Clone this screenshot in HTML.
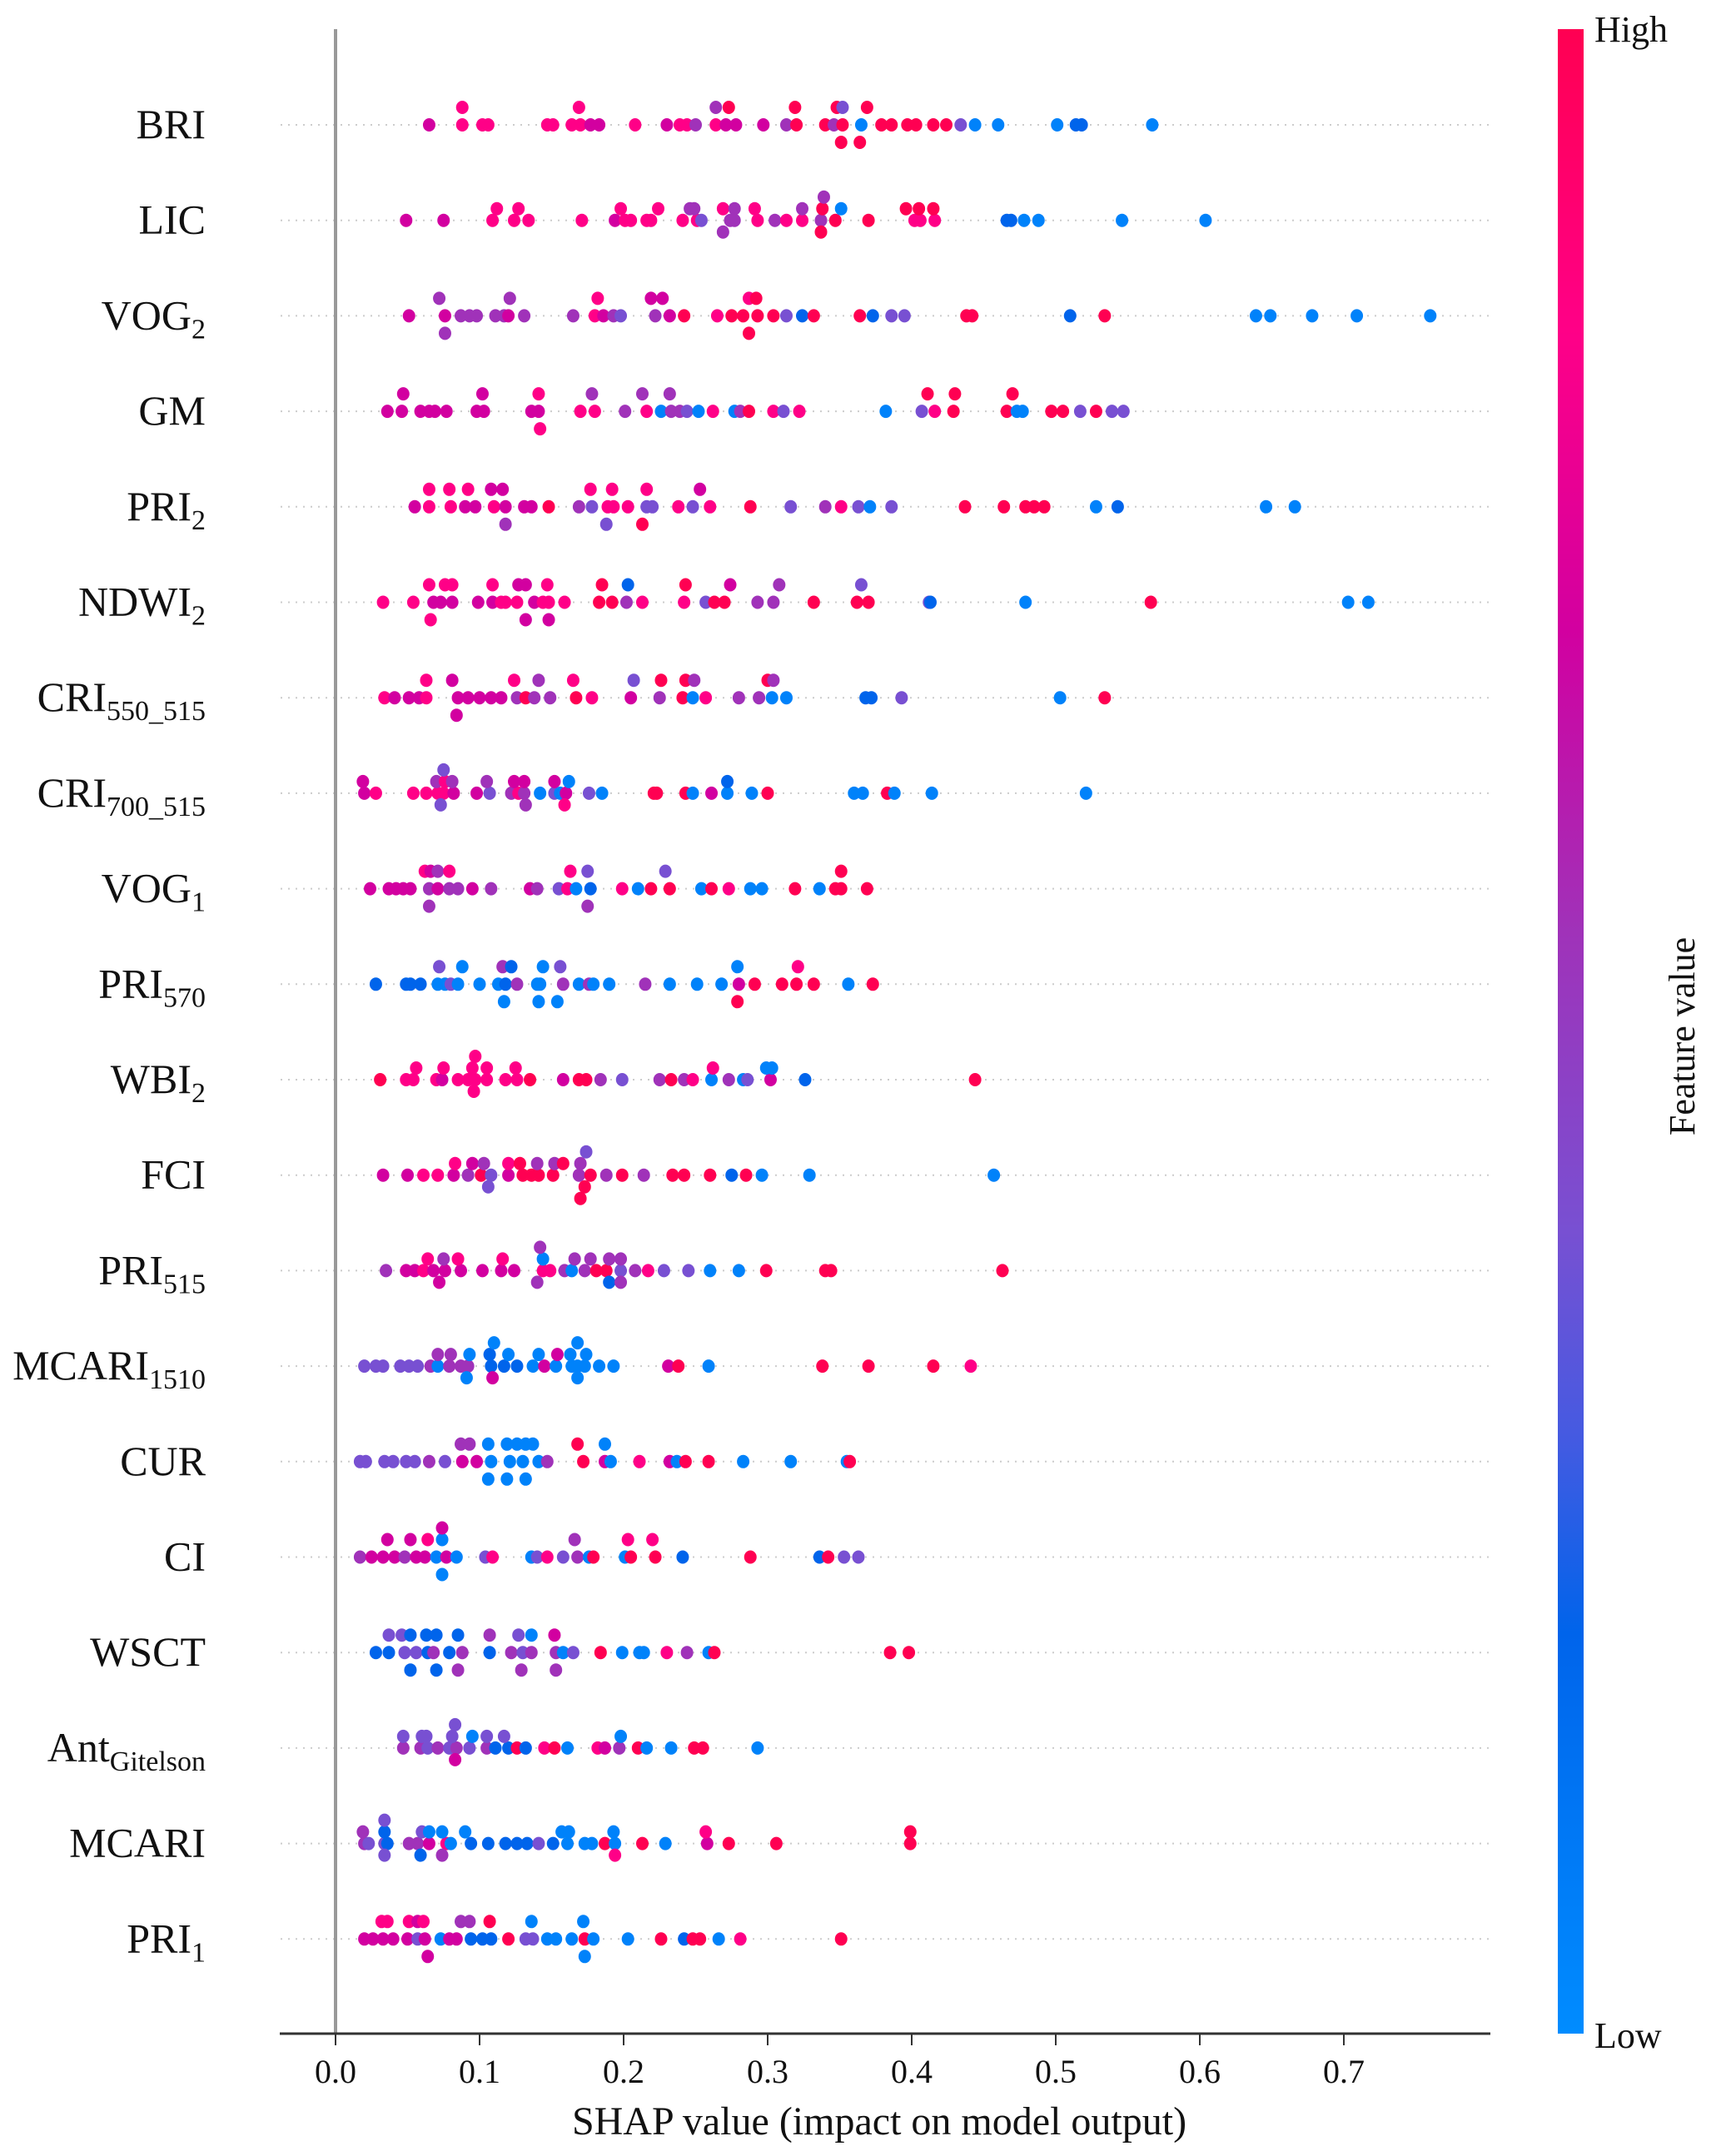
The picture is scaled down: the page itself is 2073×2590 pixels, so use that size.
<!DOCTYPE html>
<html><head><meta charset="utf-8"><style>
html,body{margin:0;padding:0;background:#fff;}
svg{display:block;font-family:"Liberation Serif",serif;}
</style></head><body>
<svg id="chart" width="2073" height="2590" viewBox="0 0 2073 2590" xmlns="http://www.w3.org/2000/svg">
<defs>
<linearGradient id="cbar" x1="0" y1="1" x2="0" y2="0">
<stop offset="0" stop-color="rgb(0,140,255)"/>
<stop offset="0.2" stop-color="rgb(0,100,235)"/>
<stop offset="0.3" stop-color="rgb(70,90,225)"/>
<stop offset="0.4" stop-color="rgb(120,80,210)"/>
<stop offset="0.55" stop-color="rgb(160,50,185)"/>
<stop offset="0.7" stop-color="rgb(210,0,160)"/>
<stop offset="0.85" stop-color="rgb(255,0,135)"/>
<stop offset="1" stop-color="rgb(255,0,82)"/>
</linearGradient>
</defs>
<g id="grid"></g>
<line x1="403" y1="35" x2="403" y2="2443" stroke="#999" stroke-width="4"/>
<g id="dots"></g>
<g id="labels"></g>
<line x1="336" y1="2443" x2="1790" y2="2443" stroke="#333" stroke-width="3"/>
<g id="xticks"></g>
<text x="1056" y="2564" font-size="48" text-anchor="middle" fill="#111">SHAP value (impact on model output)</text>
<rect x="1871" y="35" width="31" height="2408" fill="url(#cbar)"/>
<text x="1915" y="50" font-size="44" fill="#111">High</text>
<text x="1915" y="2460" font-size="44" fill="#111">Low</text>
<text x="2035" y="1245" font-size="44" text-anchor="middle" fill="#111" transform="rotate(-90 2035 1245)">Feature value</text>
</svg>
<script>
const features = [["BRI",""],["LIC",""],["VOG","2"],["GM",""],["PRI","2"],["NDWI","2"],["CRI","550_515"],["CRI","700_515"],["VOG","1"],["PRI","570"],["WBI","2"],["FCI",""],["PRI","515"],["MCARI","1510"],["CUR",""],["CI",""],["WSCT",""],["Ant","Gitelson"],["MCARI",""],["PRI","1"]];
const xTicks = [0,0.1,0.2,0.3,0.4,0.5,0.6,0.7];
const xTickLabels = ["0.0","0.1","0.2","0.3","0.4","0.5","0.6","0.7"];
// feature value codes
const R=1,P=0.85,M=0.7,U=0.55,V=0.4,B=0.2,L=0.05;
// each row: [shap value, feature value, stack layer]
const rowBRI = [[.065,M,0],[.088,P,0],[.102,P,0],[.106,P,0],[.147,P,0],[.151,P,0],[.164,P,0],[.170,P,0],[.177,M,0],[.183,M,0],[.208,P,0],[.230,M,0],[.239,P,0],[.244,P,0],[.250,U,0],[.264,P,0],[.271,M,0],[.278,M,0],[.297,M,0],[.313,U,0],[.320,R,0],[.340,R,0],[.346,U,0],[.352,R,0],[.365,L,0],[.379,R,0],[.386,R,0],[.397,R,0],[.403,R,0],[.415,R,0],[.424,R,0],[.434,V,0],[.444,L,0],[.460,L,0],[.501,L,0],[.514,B,0],[.518,B,0],[.567,L,0],
[.088,P,-3],[.169,P,-3],[.264,U,-3],[.273,R,-3],[.319,R,-3],[.348,R,-3],[.352,V,-3],[.369,R,-3],[.351,R,3],[.364,R,3]];
const rowLIC = [[.049,M,0],[.075,M,0],[.109,P,0],[.124,P,0],[.134,P,0],[.171,P,0],[.194,M,0],[.201,P,0],[.205,P,0],[.216,P,0],[.219,P,0],[.241,P,0],[.251,P,0],[.254,V,0],[.274,U,0],[.277,U,0],[.293,P,0],[.305,U,0],[.313,P,0],[.324,P,0],[.337,U,0],[.347,R,0],[.370,R,0],[.402,P,0],[.406,P,0],[.416,P,0],[.466,B,0],[.469,B,0],[.478,L,0],[.488,L,0],[.546,L,0],[.604,L,0],
[.112,P,-2],[.127,P,-2],[.198,P,-2],[.224,P,-2],[.246,U,-2],[.249,U,-2],[.269,P,-2],[.277,U,-2],[.291,P,-2],[.324,U,-2],[.338,R,-2],[.351,L,-2],[.396,R,-2],[.405,R,-2],[.415,R,-2],[.339,U,-4],[.269,U,2],[.337,R,2]];
const rowVOG2 = [[.051,M,0],[.076,M,0],[.087,U,0],[.093,U,0],[.098,U,0],[.111,U,0],[.117,U,0],[.120,M,0],[.131,U,0],[.165,U,0],[.180,P,0],[.186,M,0],[.193,U,0],[.198,V,0],[.222,U,0],[.232,M,0],[.242,R,0],[.265,P,0],[.275,R,0],[.283,R,0],[.293,R,0],[.304,R,0],[.313,V,0],[.324,B,0],[.332,R,0],[.364,R,0],[.373,B,0],[.386,V,0],[.395,V,0],[.438,R,0],[.442,R,0],[.510,B,0],[.534,R,0],[.639,L,0],[.649,L,0],[.678,L,0],[.709,L,0],[.760,L,0],
[.072,U,-3],[.121,U,-3],[.182,P,-3],[.219,M,-3],[.227,M,-3],[.287,P,-3],[.292,R,-3],[.076,U,3],[.287,R,3]];
const rowGM = [[.036,M,0],[.046,M,0],[.059,M,0],[.065,M,0],[.069,M,0],[.077,M,0],[.098,M,0],[.103,M,0],[.136,M,0],[.141,M,0],[.170,P,0],[.180,P,0],[.201,U,0],[.216,P,0],[.226,L,0],[.233,U,0],[.239,U,0],[.244,V,0],[.252,L,0],[.262,P,0],[.277,L,0],[.281,U,0],[.287,R,0],[.304,P,0],[.311,V,0],[.322,P,0],[.382,L,0],[.407,V,0],[.416,P,0],[.429,R,0],[.466,R,0],[.473,L,0],[.477,L,0],[.497,R,0],[.505,R,0],[.517,V,0],[.528,R,0],[.539,V,0],[.547,V,0],
[.047,M,-3],[.102,M,-3],[.141,P,-3],[.178,U,-3],[.213,U,-3],[.232,U,-3],[.411,R,-3],[.430,R,-3],[.470,R,-3],[.142,P,3]];
const rowPRI2 = [[.055,M,0],[.065,P,0],[.080,P,0],[.090,M,0],[.097,M,0],[.110,P,0],[.118,M,0],[.131,M,0],[.136,M,0],[.148,R,0],[.169,U,0],[.178,V,0],[.189,P,0],[.193,P,0],[.203,P,0],[.216,V,0],[.220,V,0],[.238,P,0],[.248,V,0],[.260,P,0],[.288,R,0],[.316,V,0],[.340,U,0],[.351,P,0],[.363,V,0],[.371,L,0],[.386,V,0],[.437,R,0],[.464,R,0],[.479,R,0],[.485,R,0],[.492,R,0],[.528,L,0],[.543,B,0],[.646,L,0],[.666,L,0],
[.065,P,-3],[.079,P,-3],[.092,P,-3],[.108,M,-3],[.116,M,-3],[.177,P,-3],[.192,P,-3],[.216,P,-3],[.253,M,-3],[.118,U,3],[.188,V,3],[.213,R,3]];
const rowNDWI2 = [[.033,P,0],[.054,P,0],[.068,M,0],[.073,M,0],[.081,M,0],[.099,M,0],[.109,M,0],[.115,P,0],[.118,P,0],[.126,P,0],[.138,M,0],[.144,P,0],[.148,P,0],[.159,P,0],[.183,R,0],[.192,R,0],[.202,U,0],[.213,P,0],[.242,P,0],[.257,V,0],[.263,R,0],[.270,R,0],[.293,U,0],[.304,U,0],[.332,R,0],[.362,R,0],[.370,R,0],[.412,V,0],[.413,B,0],[.479,L,0],[.566,R,0],[.703,L,0],[.717,L,0],
[.065,P,-3],[.076,P,-3],[.081,P,-3],[.109,P,-3],[.127,M,-3],[.132,M,-3],[.147,P,-3],[.185,R,-3],[.203,B,-3],[.243,R,-3],[.274,M,-3],[.308,U,-3],[.365,V,-3],[.066,P,3],[.132,M,3],[.148,M,3]];
const rowCRI550 = [[.034,P,0],[.041,M,0],[.051,M,0],[.058,M,0],[.063,P,0],[.085,M,0],[.092,M,0],[.100,M,0],[.108,M,0],[.115,M,0],[.126,U,0],[.132,R,0],[.138,U,0],[.149,U,0],[.167,R,0],[.178,P,0],[.205,M,0],[.225,U,0],[.241,R,0],[.248,L,0],[.257,P,0],[.280,U,0],[.294,U,0],[.303,L,0],[.313,L,0],[.368,B,0],[.372,B,0],[.393,V,0],[.503,L,0],[.534,R,0],
[.063,P,-3],[.081,M,-3],[.124,P,-3],[.141,U,-3],[.165,P,-3],[.207,V,-3],[.226,R,-3],[.243,R,-3],[.249,U,-3],[.300,R,-3],[.304,U,-3],[.084,M,3]];
const rowCRI700 = [[.020,M,0],[.028,P,0],[.054,P,0],[.063,P,0],[.071,P,0],[.075,P,0],[.082,M,0],[.098,M,0],[.107,V,0],[.122,U,0],[.127,P,0],[.131,U,0],[.142,L,0],[.152,V,0],[.156,L,0],[.160,M,0],[.176,V,0],[.185,L,0],[.221,R,0],[.223,R,0],[.243,R,0],[.248,L,0],[.261,M,0],[.272,L,0],[.289,L,0],[.300,R,0],[.360,L,0],[.366,L,0],[.383,R,0],[.388,L,0],[.414,L,0],[.521,L,0],
[.019,M,-2],[.070,U,-2],[.076,P,-2],[.081,U,-2],[.105,U,-2],[.124,M,-2],[.131,M,-2],[.152,M,-2],[.162,L,-2],[.272,B,-2],[.075,V,-4],[.073,V,2],[.132,U,2],[.159,P,2]];
const rowVOG1 = [[.024,M,0],[.037,M,0],[.042,M,0],[.047,M,0],[.052,M,0],[.065,U,0],[.071,M,0],[.079,U,0],[.085,U,0],[.095,M,0],[.108,U,0],[.135,M,0],[.140,U,0],[.155,V,0],[.161,P,0],[.167,L,0],[.177,B,0],[.199,P,0],[.210,L,0],[.219,R,0],[.232,R,0],[.254,L,0],[.261,R,0],[.273,P,0],[.288,L,0],[.296,L,0],[.319,R,0],[.336,L,0],[.347,R,0],[.351,R,0],[.369,R,0],
[.062,P,-3],[.066,M,-3],[.071,U,-3],[.079,P,-3],[.163,P,-3],[.175,V,-3],[.229,V,-3],[.351,R,-3],[.065,U,3],[.175,U,3]];
const rowPRI570 = [[.028,B,0],[.049,B,0],[.052,B,0],[.059,B,0],[.071,L,0],[.076,L,0],[.080,V,0],[.085,L,0],[.100,L,0],[.113,L,0],[.118,B,0],[.126,U,0],[.140,L,0],[.142,L,0],[.158,U,0],[.169,L,0],[.176,U,0],[.179,L,0],[.190,L,0],[.215,U,0],[.232,L,0],[.251,L,0],[.268,L,0],[.280,M,0],[.291,R,0],[.310,R,0],[.320,R,0],[.332,R,0],[.356,L,0],[.373,R,0],
[.072,V,-3],[.088,L,-3],[.116,U,-3],[.122,B,-3],[.144,L,-3],[.156,V,-3],[.279,L,-3],[.321,P,-3],[.117,L,3],[.141,L,3],[.154,L,3],[.279,R,3]];
const rowWBI2 = [[.031,R,0],[.049,P,0],[.054,P,0],[.070,P,0],[.074,M,0],[.085,P,0],[.092,P,0],[.097,P,0],[.105,P,0],[.118,P,0],[.126,P,0],[.135,R,0],[.158,M,0],[.169,R,0],[.174,R,0],[.184,U,0],[.199,V,0],[.225,U,0],[.233,R,0],[.242,U,0],[.248,P,0],[.261,L,0],[.273,U,0],[.283,L,0],[.286,V,0],[.302,M,0],[.326,B,0],[.444,R,0],
[.056,P,-2],[.075,P,-2],[.095,P,-2],[.105,P,-2],[.125,P,-2],[.262,P,-2],[.299,L,-2],[.303,L,-2],[.097,P,-4],[.096,P,2]];
const rowFCI = [[.033,M,0],[.050,M,0],[.061,P,0],[.071,P,0],[.082,M,0],[.092,U,0],[.101,R,0],[.108,V,0],[.120,M,0],[.130,R,0],[.136,R,0],[.141,R,0],[.151,R,0],[.169,U,0],[.177,R,0],[.188,U,0],[.199,R,0],[.214,U,0],[.234,R,0],[.242,R,0],[.260,R,0],[.275,B,0],[.285,R,0],[.296,L,0],[.329,L,0],[.457,L,0],
[.083,P,-2],[.095,M,-2],[.103,U,-2],[.120,P,-2],[.128,R,-2],[.140,U,-2],[.152,U,-2],[.158,R,-2],[.170,U,-2],[.174,V,-4],[.106,V,2],[.173,R,2],[.170,R,4]];
const rowPRI515 = [[.035,U,0],[.049,M,0],[.055,M,0],[.061,P,0],[.068,M,0],[.076,M,0],[.087,M,0],[.102,M,0],[.115,M,0],[.124,M,0],[.144,P,0],[.149,P,0],[.159,U,0],[.164,L,0],[.173,U,0],[.181,R,0],[.188,R,0],[.198,V,0],[.208,U,0],[.217,P,0],[.228,V,0],[.245,V,0],[.260,L,0],[.280,L,0],[.299,R,0],[.340,R,0],[.344,R,0],[.463,R,0],
[.064,P,-2],[.075,U,-2],[.085,P,-2],[.116,P,-2],[.144,L,-2],[.166,U,-2],[.177,U,-2],[.190,U,-2],[.198,U,-2],[.142,U,-4],[.072,M,2],[.140,U,2],[.190,B,2],[.198,U,2]];
const rowMCARI1510 = [[.020,V,0],[.028,V,0],[.033,V,0],[.045,V,0],[.051,V,0],[.057,V,0],[.066,U,0],[.071,L,0],[.079,U,0],[.087,U,0],[.092,U,0],[.108,B,0],[.117,B,0],[.126,B,0],[.137,L,0],[.145,M,0],[.153,L,0],[.164,L,0],[.168,L,0],[.173,L,0],[.183,L,0],[.193,L,0],[.231,M,0],[.238,R,0],[.259,L,0],[.338,R,0],[.370,R,0],[.415,R,0],[.441,P,0],
[.071,U,-2],[.080,U,-2],[.093,L,-2],[.107,B,-2],[.120,L,-2],[.141,L,-2],[.154,M,-2],[.163,L,-2],[.174,L,-2],[.110,L,-4],[.168,L,-4],[.091,L,2],[.109,M,2],[.168,L,2]];
const rowCUR = [[.017,V,0],[.021,V,0],[.034,V,0],[.040,V,0],[.049,V,0],[.055,V,0],[.065,U,0],[.076,V,0],[.088,M,0],[.098,M,0],[.108,L,0],[.121,L,0],[.130,L,0],[.141,L,0],[.147,U,0],[.172,R,0],[.187,M,0],[.191,L,0],[.211,P,0],[.232,M,0],[.237,L,0],[.243,R,0],[.259,R,0],[.283,L,0],[.316,L,0],[.355,L,0],[.357,R,0],
[.087,U,-3],[.093,U,-3],[.106,L,-3],[.119,L,-3],[.126,L,-3],[.132,L,-3],[.137,L,-3],[.168,R,-3],[.187,L,-3],[.106,L,3],[.119,L,3],[.132,L,3]];
const rowCI = [[.017,U,0],[.025,M,0],[.033,M,0],[.041,M,0],[.048,U,0],[.056,M,0],[.062,M,0],[.070,L,0],[.077,M,0],[.084,L,0],[.104,V,0],[.109,P,0],[.136,L,0],[.140,V,0],[.147,P,0],[.158,V,0],[.168,U,0],[.176,L,0],[.179,R,0],[.201,L,0],[.205,R,0],[.222,R,0],[.241,B,0],[.288,R,0],[.336,B,0],[.342,R,0],[.353,V,0],[.363,V,0],
[.036,M,-3],[.052,M,-3],[.064,P,-3],[.074,L,-3],[.166,U,-3],[.203,P,-3],[.220,P,-3],[.074,M,-5],[.074,L,3]];
const rowWSCT = [[.028,B,0],[.037,B,0],[.048,V,0],[.056,V,0],[.064,B,0],[.068,U,0],[.079,B,0],[.088,U,0],[.107,B,0],[.122,U,0],[.130,V,0],[.136,U,0],[.153,U,0],[.158,L,0],[.165,V,0],[.184,R,0],[.199,L,0],[.211,L,0],[.214,L,0],[.230,P,0],[.244,U,0],[.259,L,0],[.263,R,0],[.385,R,0],[.398,R,0],
[.037,V,-3],[.046,V,-3],[.052,B,-3],[.063,B,-3],[.070,B,-3],[.085,B,-3],[.107,U,-3],[.127,V,-3],[.136,L,-3],[.152,M,-3],[.052,B,3],[.070,B,3],[.085,U,3],[.129,U,3],[.153,U,3]];
const rowAnt = [[.047,U,0],[.059,U,0],[.064,V,0],[.071,U,0],[.079,V,0],[.084,U,0],[.093,V,0],[.105,U,0],[.111,B,0],[.120,B,0],[.126,R,0],[.132,B,0],[.145,P,0],[.152,R,0],[.161,L,0],[.182,P,0],[.187,M,0],[.197,U,0],[.210,R,0],[.216,L,0],[.233,L,0],[.249,R,0],[.255,R,0],[.293,L,0],
[.047,V,-2],[.060,V,-2],[.063,V,-2],[.081,V,-2],[.095,L,-2],[.105,V,-2],[.117,V,-2],[.198,L,-2],[.083,V,-4],[.083,M,2]];
const rowMCARI = [[.020,U,0],[.023,V,0],[.034,V,0],[.036,B,0],[.051,U,0],[.057,U,0],[.065,M,0],[.077,P,0],[.080,L,0],[.094,B,0],[.106,B,0],[.118,B,0],[.126,B,0],[.133,B,0],[.141,V,0],[.151,B,0],[.161,L,0],[.173,L,0],[.178,L,0],[.187,R,0],[.194,L,0],[.213,R,0],[.229,L,0],[.258,M,0],[.273,R,0],[.306,R,0],[.399,R,0],
[.019,U,-2],[.034,B,-2],[.060,V,-2],[.065,L,-2],[.074,L,-2],[.090,L,-2],[.157,L,-2],[.162,L,-2],[.193,L,-2],[.257,P,-2],[.399,R,-2],[.034,V,-4],[.034,V,2],[.059,B,2],[.074,U,2],[.194,P,2]];
const rowPRI1 = [[.020,M,0],[.026,M,0],[.033,M,0],[.040,M,0],[.050,M,0],[.057,V,0],[.062,M,0],[.073,L,0],[.079,M,0],[.084,M,0],[.094,B,0],[.102,B,0],[.108,B,0],[.120,R,0],[.132,V,0],[.137,V,0],[.147,L,0],[.153,L,0],[.164,L,0],[.173,R,0],[.179,L,0],[.203,L,0],[.226,R,0],[.242,B,0],[.248,R,0],[.253,R,0],[.266,L,0],[.281,P,0],[.351,R,0],
[.032,P,-3],[.036,P,-3],[.051,P,-3],[.057,M,-3],[.061,P,-3],[.087,U,-3],[.093,U,-3],[.107,R,-3],[.136,L,-3],[.172,L,-3],[.064,M,3],[.173,L,3]];
const rows = [rowBRI,rowLIC,rowVOG2,rowGM,rowPRI2,rowNDWI2,rowCRI550,rowCRI700,rowVOG1,rowPRI570,rowWBI2,rowFCI,rowPRI515,rowMCARI1510,rowCUR,rowCI,rowWSCT,rowAnt,rowMCARI,rowPRI1];

const NS="http://www.w3.org/2000/svg";
const X0=403, XS=1730, Y0=150, YS=114.7, LAYER=7;
function xScale(v){return X0+v*XS;}
function yScale(i){return Y0+i*YS;}
const stops=[[0,[0,140,255]],[0.2,[0,100,235]],[0.3,[70,90,225]],[0.4,[120,80,210]],[0.55,[160,50,185]],[0.7,[210,0,160]],[0.85,[255,0,135]],[1,[255,0,82]]];
function colorOf(t){
  for(let k=1;k<stops.length;k++){
    if(t<=stops[k][0]){const a=stops[k-1],b=stops[k];const f=(t-a[0])/(b[0]-a[0]);
      return "rgb("+a[1].map((c,j)=>Math.round(c+(b[1][j]-c)*f)).join(",")+")";}
  }
  return "rgb(255,0,82)";
}
const grid=document.getElementById("grid"),dots=document.getElementById("dots"),labels=document.getElementById("labels"),xt=document.getElementById("xticks");
features.forEach((f,i)=>{
  const y=yScale(i);
  const ln=document.createElementNS(NS,"line");
  
  
  ln.setAttribute("x1",337);ln.setAttribute("x2",1790);ln.setAttribute("y1",y);ln.setAttribute("y2",y);
  ln.setAttribute("stroke","#ccc");ln.setAttribute("stroke-width","2");ln.setAttribute("stroke-dasharray","2,7");
  grid.appendChild(ln);
  const t=document.createElementNS(NS,"text");
  
  
  t.setAttribute("x",247);t.setAttribute("y",y+16);t.setAttribute("font-size","50");t.setAttribute("text-anchor","end");t.setAttribute("fill","#111");
  const a=document.createElementNS(NS,"tspan");a.textContent=f[0];t.appendChild(a);
  if(f[1]){const s=document.createElementNS(NS,"tspan");s.setAttribute("font-size","34");s.setAttribute("dy","11");s.textContent=f[1];t.appendChild(s);}
  labels.appendChild(t);
  rows[i].forEach(p=>{
    const c=document.createElementNS(NS,"ellipse");
    
    
    c.setAttribute("cx",xScale(p[0]));c.setAttribute("cy",y+p[2]*LAYER);
    c.setAttribute("rx",7.5);c.setAttribute("ry",8);c.setAttribute("fill",colorOf(p[1]));
    dots.appendChild(c);
  });
});
xTicks.forEach((v,k)=>{
  const x=xScale(v);
  const tk=document.createElementNS(NS,"line");
  
  
  tk.setAttribute("x1",x);tk.setAttribute("x2",x);tk.setAttribute("y1",2443);tk.setAttribute("y2",2457);tk.setAttribute("stroke","#333");tk.setAttribute("stroke-width","2");
  xt.appendChild(tk);
  const tl=document.createElementNS(NS,"text");
  
  
  tl.setAttribute("x",x);tl.setAttribute("y",2502);tl.setAttribute("font-size","40");tl.setAttribute("text-anchor","middle");tl.setAttribute("fill","#111");
  tl.textContent=xTickLabels[k];
  xt.appendChild(tl);
});
</script>
</body></html>
